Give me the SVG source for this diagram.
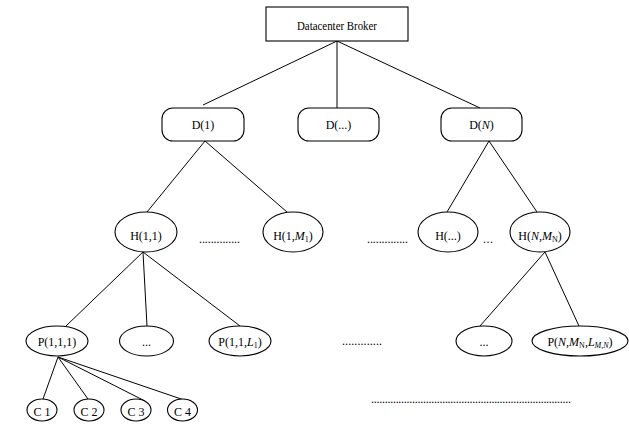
<svg xmlns="http://www.w3.org/2000/svg" width="629" height="425" viewBox="0 0 629 425">
<style>
.n{fill:#fff;stroke:#000;stroke-width:1.1}
.e{stroke:#000;stroke-width:1;fill:none}
text{font-family:"Liberation Serif","Times New Roman",serif;font-size:12px;fill:#000}
.c{text-anchor:middle}
.i{font-style:italic}
.s{font-size:8px}
.cl{font-size:13px}
</style>
<rect width="629" height="425" fill="#fff"/>
<g id="connectors">
<line class="e" x1="337" y1="41" x2="203" y2="105"/>
<line class="e" x1="337" y1="41" x2="337" y2="108"/>
<line class="e" x1="337" y1="41" x2="480" y2="108"/>
<line class="e" x1="205" y1="141" x2="147" y2="212"/>
<line class="e" x1="205" y1="141" x2="287" y2="212"/>
<line class="e" x1="489" y1="141" x2="447" y2="212"/>
<line class="e" x1="489" y1="141" x2="537" y2="212"/>
<line class="e" x1="143" y1="252" x2="66" y2="326"/>
<line class="e" x1="143" y1="252" x2="147" y2="326"/>
<line class="e" x1="143" y1="252" x2="240" y2="326"/>
<line class="e" x1="545" y1="252" x2="480" y2="326"/>
<line class="e" x1="545" y1="252" x2="579" y2="326"/>
<line class="e" x1="58" y1="357" x2="43" y2="399"/>
<line class="e" x1="58" y1="357" x2="88" y2="399"/>
<line class="e" x1="58" y1="357" x2="145" y2="401"/>
<line class="e" x1="58" y1="357" x2="187" y2="401"/>
</g>
<g id="broker">
<rect class="n" x="266" y="7" width="142" height="34"/>
<text class="c" x="337" y="29.5" style="font-size:12.5px" textLength="80" lengthAdjust="spacingAndGlyphs">Datacenter Broker</text>
</g>
<g id="d1">
<rect class="n" x="162" y="108" width="82" height="33" rx="11"/>
<text class="c" x="203" y="129">D(1)</text>
</g>
<g id="ddots">
<rect class="n" x="298" y="108" width="81" height="33" rx="11"/>
<text class="c" x="338.5" y="129">D(...)</text>
</g>
<g id="dN">
<rect class="n" x="441" y="108" width="81" height="33" rx="11"/>
<text class="c" x="481.5" y="129">D(<tspan class="i">N</tspan>)</text>
</g>
<g id="h11">
<ellipse class="n" cx="146" cy="232" rx="31" ry="20"/>
<text class="c" x="146" y="240">H(1,1)</text>
</g>
<text x="199" y="243" textLength="41" lengthAdjust="spacing">..............</text>
<g id="h1M">
<ellipse class="n" cx="293" cy="232" rx="30" ry="20"/>
<text class="c" x="293" y="240">H(1,<tspan class="i">M</tspan><tspan class="s" dy="2">1</tspan><tspan dy="-2">)</tspan></text>
</g>
<text x="367" y="243" textLength="41" lengthAdjust="spacing">..............</text>
<g id="hdots">
<ellipse class="n" cx="448" cy="232" rx="30" ry="20"/>
<text class="c" x="448" y="240">H(...)</text>
</g>
<text x="483" y="243" textLength="10" lengthAdjust="spacing">...</text>
<g id="hNM">
<ellipse class="n" cx="540" cy="232" rx="30" ry="20"/>
<text class="c" x="540" y="240">H(<tspan class="i">N</tspan>,<tspan class="i">M</tspan><tspan class="s" dy="2">N</tspan><tspan dy="-2">)</tspan></text>
</g>
<g id="p111">
<ellipse class="n" cx="57" cy="341" rx="31" ry="15"/>
<text class="c" x="57" y="345.5">P(1,1,1)</text>
</g>
<g id="pdots1">
<ellipse class="n" cx="146.5" cy="341" rx="27" ry="15"/>
<text class="c" x="146.5" y="345.5">...</text>
</g>
<g id="p11L">
<ellipse class="n" cx="240" cy="341" rx="31" ry="15"/>
<text class="c" x="240" y="345.5">P(1,1,<tspan class="i">L</tspan><tspan class="s" dy="2">1</tspan><tspan dy="-2">)</tspan></text>
</g>
<text x="342" y="345" textLength="40" lengthAdjust="spacing">.............</text>
<g id="pdots2">
<ellipse class="n" cx="484" cy="341" rx="28" ry="15"/>
<text class="c" x="484" y="345.5">...</text>
</g>
<g id="pNML">
<ellipse class="n" cx="580" cy="341" rx="48" ry="15"/>
<text class="c" x="580" y="345.5">P(<tspan class="i">N</tspan>,<tspan class="i">M</tspan><tspan class="s" dy="2">N</tspan><tspan dy="-2">,</tspan><tspan class="i">L</tspan><tspan class="s i" dy="2">M,N</tspan><tspan dy="-2">)</tspan></text>
</g>
<g id="c1">
<ellipse class="n" cx="42" cy="410" rx="15" ry="11"/>
<text class="c cl" x="42" y="416" textLength="17" lengthAdjust="spacingAndGlyphs">C 1</text>
</g>
<g id="c2">
<ellipse class="n" cx="89" cy="410" rx="15" ry="11"/>
<text class="c cl" x="89" y="416" textLength="17" lengthAdjust="spacingAndGlyphs">C 2</text>
</g>
<g id="c3">
<ellipse class="n" cx="136" cy="410" rx="15" ry="11"/>
<text class="c cl" x="136" y="416" textLength="17" lengthAdjust="spacingAndGlyphs">C 3</text>
</g>
<g id="c4">
<ellipse class="n" cx="182.5" cy="410" rx="15" ry="11"/>
<text class="c cl" x="182.5" y="416" textLength="17" lengthAdjust="spacingAndGlyphs">C 4</text>
</g>
<text x="371" y="403" textLength="200" lengthAdjust="spacing">.........................................................................</text>
</svg>
